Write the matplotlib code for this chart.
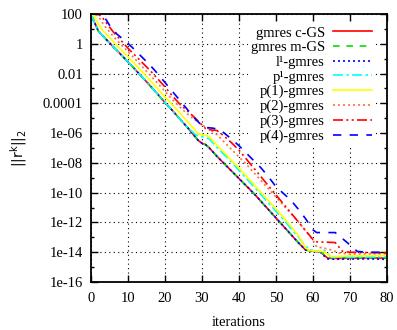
import numpy as np
import matplotlib
matplotlib.use("Agg")
import matplotlib.pyplot as plt
from matplotlib.ticker import FixedLocator, FixedFormatter, NullFormatter

plt.rcParams['font.family'] = ['Liberation Serif', 'DejaVu Serif']

# ---- data (log10 of residual norm) ----
it_cgs = [0, 1, 2, 4, 6, 8, 10, 12, 14, 16, 18, 20, 22, 24, 26, 28, 29, 30, 31, 32, 34, 36, 38, 40,
          42, 44, 46, 48, 50, 52, 54, 56, 58, 60, 62, 63, 64, 66, 70, 75, 80]
lg_cgs = [2.0, 1.4, 0.85, 0.32, -0.2, -0.7, -1.22, -1.75, -2.28, -2.82, -3.38, -3.95, -4.48, -5.05,
          -5.6, -6.2, -6.5, -6.68, -6.78, -7.0, -7.55, -8.05, -8.55, -9.05, -9.55, -10.05, -10.6,
          -11.15, -11.7, -12.25, -12.8, -13.35, -13.85, -13.92, -13.98, -14.2, -14.4, -14.42,
          -14.4, -14.38, -14.4]

it_mgs = it_cgs
lg_mgs = [2.0, 1.4, 0.85, 0.32, -0.2, -0.7, -1.22, -1.75, -2.28, -2.82, -3.38, -3.95, -4.48, -5.05,
          -5.6, -6.2, -6.5, -6.68, -6.78, -7.0, -7.55, -8.05, -8.55, -9.05, -9.55, -10.05, -10.6,
          -11.15, -11.7, -12.25, -12.8, -13.35, -13.85, -13.93, -13.98, -14.15, -14.35, -14.36,
          -14.35, -14.36, -14.38]

it_l1 = it_cgs
lg_l1 = [2.0, 1.4, 0.85, 0.32, -0.2, -0.7, -1.22, -1.75, -2.28, -2.82, -3.38, -3.95, -4.48, -5.05,
         -5.6, -6.2, -6.5, -6.68, -6.78, -7.0, -7.55, -8.05, -8.55, -9.05, -9.55, -10.05, -10.6,
         -11.15, -11.7, -12.25, -12.8, -13.35, -13.85, -13.92, -13.99, -14.25, -14.45, -14.47,
         -14.46, -14.45, -14.48]

it_p1s = [0, 1, 2, 4, 6, 8, 10, 12, 14, 16, 18, 20, 22, 24, 26, 28, 29, 30, 31, 32, 34, 36, 38, 40,
          42, 44, 46, 48, 50, 52, 54, 56, 58, 60, 62, 63, 64, 65, 70, 80]
lg_p1s = [2.0, 1.4, 0.85, 0.32, -0.2, -0.7, -1.22, -1.75, -2.28, -2.82, -3.38, -3.95, -4.48, -5.05,
          -5.6, -6.05, -6.2, -6.25, -6.27, -6.4, -6.95, -7.45, -7.95, -8.5, -9.05, -9.6, -10.15,
          -10.7, -11.25, -11.8, -12.4, -12.95, -13.6, -13.9, -13.95, -13.85, -14.1, -14.35,
          -14.35, -14.3]

it_p1 = [0, 1, 2, 3, 4, 6, 8, 10, 12, 14, 16, 18, 20, 22, 24, 26, 28, 29, 30, 31, 32, 34, 36, 38,
         40, 42, 44, 46, 48, 50, 52, 54, 56, 58, 59, 62, 63, 64, 65, 70, 80]
lg_p1 = [2.0, 1.8, 1.3, 0.95, 0.68, 0.15, -0.36, -0.88, -1.4, -1.93, -2.47, -3.02, -3.58, -4.1,
         -4.65, -5.2, -5.75, -6.05, -6.13, -6.14, -6.25, -6.8, -7.3, -7.85, -8.35, -8.9, -9.45,
         -10.0, -10.55, -11.1, -11.65, -12.25, -12.85, -13.7, -13.88, -13.95, -13.97, -14.15,
         -14.3, -14.25, -14.22]

it_p2 = [0, 1, 2, 3, 4, 6, 8, 10, 12, 14, 16, 18, 20, 22, 24, 26, 28, 30, 32, 34, 36, 38, 40, 42,
         44, 46, 48, 50, 52, 54, 56, 58, 60, 61, 63, 65, 67, 70, 80]
lg_p2 = [2.0, 2.0, 1.85, 1.45, 1.1, 0.5, -0.03, -0.53, -1.05, -1.58, -2.12, -2.65, -3.2, -3.75,
         -4.25, -4.7, -5.1, -5.45, -5.75, -6.1, -6.6, -7.1, -7.6, -8.1, -8.65, -9.2, -9.75, -10.3,
         -10.85, -11.4, -11.95, -12.55, -13.2, -13.65, -13.72, -13.85, -14.05, -14.12, -14.1]

it_p3 = [0, 2, 3, 4, 6, 8, 10, 12, 14, 16, 18, 20, 22, 24, 26, 28, 29, 30, 31, 32, 34, 36, 38, 40,
         42, 44, 46, 48, 50, 52, 54, 56, 58, 60, 61, 66, 68, 70, 80]
lg_p3 = [2.0, 1.98, 1.8, 1.45, 0.8, 0.25, -0.3, -0.8, -1.3, -1.8, -2.35, -2.9, -3.5, -4.05, -4.5,
         -4.95, -5.2, -5.45, -5.7, -5.78, -5.82, -6.2, -6.65, -7.15, -7.75, -8.35, -8.95, -9.55,
         -10.15, -10.75, -11.35, -11.95, -12.55, -13.15, -13.3, -13.35, -13.95, -14.0, -14.05]

it_p4 = [0, 3, 4, 5, 7, 10, 12, 14, 16, 18, 20, 22, 24, 26, 28, 30, 31, 33, 35, 36, 38, 40, 42, 44,
         46, 48, 50, 52, 54, 56, 58, 60, 61, 66, 69, 72, 75, 80]
lg_p4 = [2.0, 1.98, 1.65, 1.25, 0.65, 0.03, -0.45, -0.95, -1.45, -2.0, -2.6, -3.2, -3.8, -4.4, -5.0,
         -5.5, -5.62, -5.67, -5.78, -6.0, -6.4, -6.85, -7.35, -7.85, -8.35, -8.95, -9.6, -10.05,
         -10.5, -11.1, -11.75, -12.5, -12.68, -12.68, -13.3, -13.95, -14.0, -14.0]

labels = ['gmres c-GS', 'gmres m-GS', 'l\u00b9-gmres', 'p\u00b9-gmres',
          'p(1)-gmres', 'p(2)-gmres', 'p(3)-gmres', 'p(4)-gmres']
ytick_vals = [1e2, 1e0, 1e-2, 1e-4, 1e-6, 1e-8, 1e-10, 1e-12, 1e-14, 1e-16]
ytick_labels = ['100', '1', '0.01', '0.0001', '1e-06', '1e-08', '1e-10', '1e-12', '1e-14', '1e-16']
xtick_vals = [0, 10, 20, 30, 40, 50, 60, 70, 80]

series = [(it_cgs, lg_cgs), (it_mgs, lg_mgs), (it_l1, lg_l1), (it_p1s, lg_p1s),
          (it_p1, lg_p1), (it_p2, lg_p2), (it_p3, lg_p3), (it_p4, lg_p4)]
styles = [
    dict(color='#ff0000', linestyle='-'),
    dict(color='#00e000', linestyle=(0, (4, 4))),
    dict(color='#0000ff', linestyle=(0, (1.2, 1.8))),
    dict(color='#00ffff', linestyle=(0, (6, 2, 1.5, 2))),
    dict(color='#ffff00', linestyle='-'),
    dict(color='#ff7040', linestyle=(0, (1.2, 1.8))),
    dict(color='#ff0000', linestyle=(0, (6, 2, 1.2, 2, 1.2, 2))),
    dict(color='#0000ff', linestyle=(0, (5, 5))),
]

fig = plt.figure(figsize=(3.97, 3.30), dpi=100)
ax = fig.add_axes([91 / 397, 1 - 282 / 330, 296 / 397, 268 / 330])

for (xs, ls), st, lab in zip(series, styles, labels):
    ax.plot(xs, 10.0 ** np.array(ls), lw=1.2, label=lab, **st)

ax.set_yscale('log')
ax.set_xlim(0, 80)
ax.set_ylim(1e-16, 1e2)
ax.xaxis.set_major_locator(FixedLocator(xtick_vals))
ax.yaxis.set_major_locator(FixedLocator(ytick_vals))
ax.yaxis.set_major_formatter(FixedFormatter(ytick_labels))
ax.yaxis.set_minor_locator(FixedLocator([10.0 ** e for e in range(-15, 2, 2)]))
ax.yaxis.set_minor_formatter(NullFormatter())
ax.tick_params(which='both', direction='in', top=True, right=True, labelsize=10.5)
ax.tick_params(which='major', length=5, width=1)
ax.tick_params(which='minor', length=2.5, width=1)
ax.tick_params(axis='x', pad=7)
ax.tick_params(axis='y', pad=6)
ax.grid(True, which='major', color='black', linestyle=(0, (1, 3)), linewidth=0.8)
for sp in ax.spines.values():
    sp.set_linewidth(1.3)

ax.set_xlabel('iterations', fontsize=10.5, labelpad=8)
ax.set_ylabel(r'$\mathregular{||r^k||_2}$', fontsize=10, family='DejaVu Sans', labelpad=10)

leg = ax.legend(loc='upper right', bbox_to_anchor=(0.96, 0.965), markerfirst=False,
                fontsize=10.5, frameon=True, framealpha=1, facecolor='white',
                edgecolor='none', fancybox=False, handlelength=2.7, handletextpad=0.55,
                labelspacing=0.1, borderpad=0.2, borderaxespad=0.0)
try:
    for col in leg._legend_box.get_children()[1].get_children():
        col.align = 'right'
except Exception:
    pass

fig.savefig('out.png', dpi=100)
